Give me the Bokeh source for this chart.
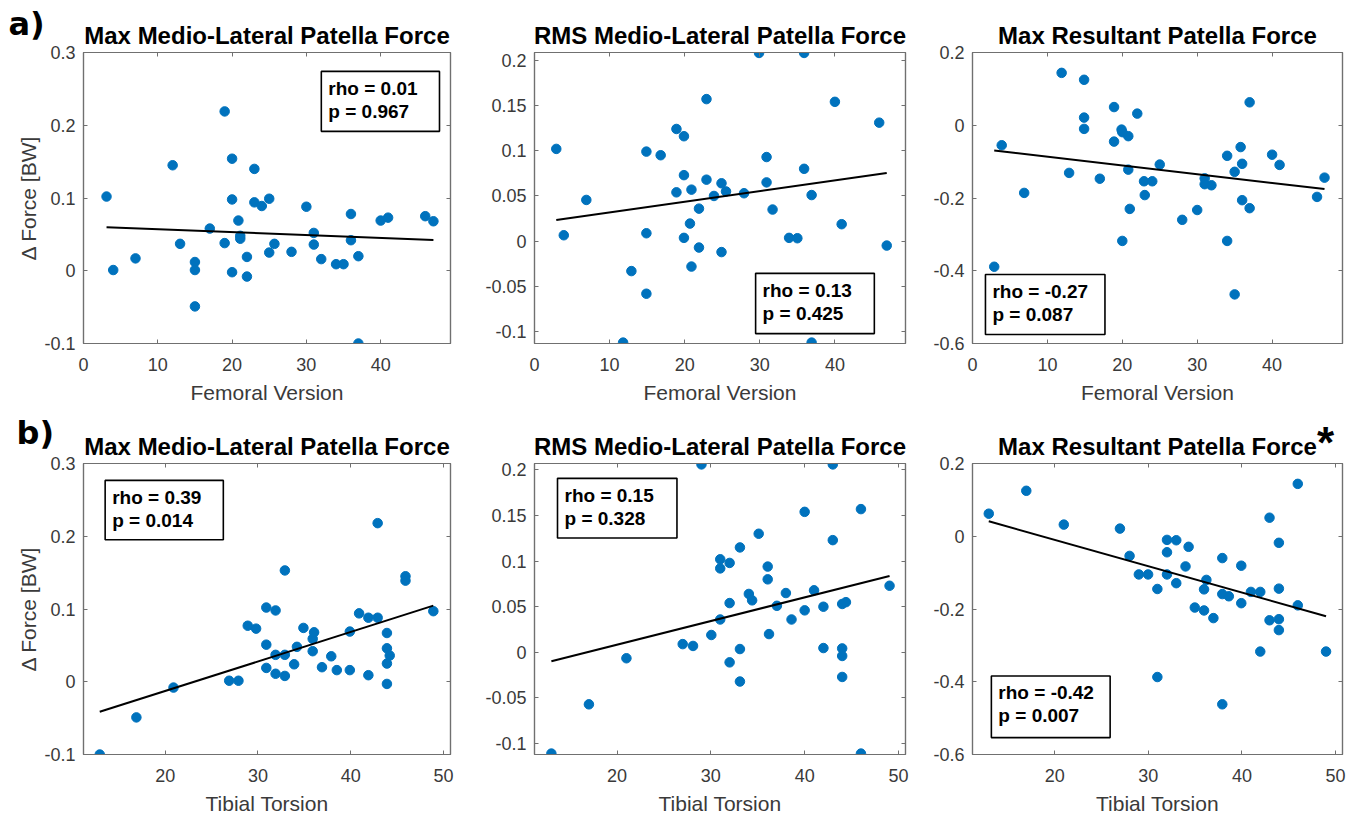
from bokeh.plotting import figure
from bokeh.models import (Range1d, FixedTicker, LinearAxis, BoxAnnotation, Label,
                          CustomJSTickFormatter, GridBox)
from bokeh.embed import file_html
from bokeh.resources import INLINE

# ------------------------------------------------------------------ data
titles = ["Max Medio-Lateral Patella Force", "RMS Medio-Lateral Patella Force",
          "Max Resultant Patella Force"]
x_labels = ["Femoral Version", "Tibial Torsion"]
y_label = "\u0394 Force [BW]"
row_tags = ["a)", "b)"]
sig_mark = "*"

# a) Femoral version
a1_x = [3.1, 4, 7, 12, 13, 15, 15, 15, 17, 19, 19, 20, 20, 20, 20.85, 21.1, 21.1, 22, 22, 23,
        23, 24, 25, 25, 25.7, 28, 30, 31, 31, 32, 34, 35, 36, 36, 37, 37, 40, 41, 46, 47.1]
a1_y = [0.102, 0.001, 0.017, 0.145, 0.037, 0.012, 0.001, -0.049, 0.058, 0.219, 0.038, 0.154,
        0.098, -0.002, 0.069, 0.048, 0.044, 0.019, -0.008, 0.140, 0.094, 0.089, 0.099, 0.025,
        0.037, 0.026, 0.088, 0.052, 0.036, 0.016, 0.009, 0.009, 0.078, 0.042, 0.020, -0.1,
        0.069, 0.073, 0.075, 0.068]
a2_x = [2.9, 3.9, 6.9, 11.8, 12.9, 14.9, 14.9, 14.9, 16.8, 18.9, 18.9, 19.9, 19.9, 19.9, 20.7,
        20.9, 20.9, 21.9, 21.9, 22.9, 22.9, 23.9, 24.9, 24.9, 25.5, 27.9, 29.9, 30.9, 30.9, 31.7,
        33.9, 35.0, 35.9, 35.9, 36.9, 36.9, 40.0, 40.9, 45.9, 46.9]
a2_y = [0.102, 0.0066, 0.0456, -0.112, -0.033, 0.099, 0.0088, -0.058, 0.095, 0.124, 0.054,
        0.116, 0.073, 0.0037, 0.0195, 0.057, -0.028, 0.036, -0.007, 0.157, 0.068, 0.050, 0.064,
        -0.012, 0.055, 0.053, 0.208, 0.093, 0.065, 0.035, 0.0037, 0.0033, 0.208, 0.080, 0.051,
        -0.112, 0.154, 0.0188, 0.131, -0.0048]
a3_x = [2.9, 3.9, 6.9, 11.9, 12.9, 14.9, 14.9, 14.9, 17.0, 18.9, 18.9, 19.9, 20.0, 20.0, 20.8,
        20.8, 21.0, 22.0, 22.9, 23.0, 24.0, 25.0, 28.0, 30.0, 31.0, 31.0, 31.9, 34.0, 34.0, 35.0,
        35.0, 35.8, 36.0, 36.0, 37.0, 37.0, 40.0, 41.0, 46.0, 47.0]
a3_y = [-0.389, -0.055, -0.186, 0.144, -0.131, 0.125, 0.021, -0.010, -0.147, 0.050, -0.045,
        -0.012, -0.019, -0.318, -0.030, -0.122, -0.230, 0.032, -0.154, -0.192, -0.154, -0.108,
        -0.260, -0.233, -0.146, -0.162, -0.165, -0.084, -0.318, -0.128, -0.465, -0.060, -0.106,
        -0.206, 0.063, -0.228, -0.081, -0.109, -0.197, -0.144]

# b) Tibial torsion
b1_x = [12.95, 16.9, 20.9, 26.9, 27.9, 28.9, 29.8, 30.9, 30.9, 30.9, 31.9, 31.9, 31.9, 32.9,
        32.9, 32.9, 33.9, 34.2, 34.9, 35.9, 36.05, 35.9, 36.9, 37.9, 38.5, 39.9, 39.9, 40.9,
        41.9, 41.9, 42.9, 42.9, 43.9, 43.9, 44.2, 43.9, 43.9, 45.9, 45.9, 48.9]
b1_y = [-0.1, -0.049, -0.008, 0.0014, 0.0014, 0.077, 0.073, 0.102, 0.051, 0.019, 0.098, 0.037,
        0.011, 0.153, 0.037, 0.008, 0.024, 0.048, 0.074, 0.059, 0.068, 0.042, 0.020, 0.035,
        0.016, 0.069, 0.016, 0.094, 0.088, 0.009, 0.218, 0.088, 0.067, 0.046, 0.036, 0.025,
        -0.003, 0.145, 0.139, 0.097]
b2_x = [13.0, 17.0, 21.0, 27.0, 28.1, 29.0, 30.05, 31.0, 31.0, 31.0, 32.0, 32.0, 32.0, 33.1,
        33.1, 33.1, 34.05, 34.4, 35.1, 36.06, 36.06, 36.2, 37.04, 38.0, 38.6, 40.0, 40.0, 41.0,
        42.0, 42.0, 43.0, 43.0, 44.0, 44.4, 44.0, 44.0, 44.0, 46.0, 46.0, 49.05]
b2_y = [-0.111, -0.057, -0.0065, 0.009, 0.007, 0.206, 0.019, 0.102, 0.092, 0.036, 0.098, 0.054,
        -0.011, 0.115, 0.0036, -0.032, 0.064, 0.057, 0.130, 0.094, 0.080, 0.020, 0.051, 0.065,
        0.036, 0.154, 0.046, 0.068, 0.050, 0.0047, 0.206, 0.123, 0.053, 0.055, 0.0043, -0.004,
        -0.027, 0.157, -0.111, 0.073]
b3_x = [12.94, 16.95, 20.96, 26.96, 27.99, 28.98, 29.97, 30.96, 30.96, 31.99, 31.99, 31.99,
        32.98, 32.98, 33.97, 34.3, 34.96, 35.95, 35.95, 36.2, 36.95, 37.9, 37.9, 38.6, 37.9,
        39.93, 39.93, 40.96, 41.96, 41.96, 42.95, 42.95, 43.95, 43.95, 43.95, 43.95, 45.97,
        45.97, 48.99]
b3_y = [0.062, 0.125, 0.032, 0.021, -0.054, -0.105, -0.105, -0.145, -0.387, -0.010, -0.044,
        -0.105, -0.011, -0.129, -0.083, -0.029, -0.196, -0.146, -0.204, -0.120, -0.225, -0.060,
        -0.159, -0.165, -0.462, -0.081, -0.184, -0.153, -0.153, -0.317, 0.051, -0.231, -0.018,
        -0.144, -0.228, -0.258, 0.144, -0.190, -0.317]

# regression lines (end points)
a1_fit_x, a1_fit_y = [3.1, 47.1], [0.0598, 0.0423]
a2_fit_x, a2_fit_y = [2.9, 46.9], [0.0235, 0.0754]
a3_fit_x, a3_fit_y = [2.9, 47.0], [-0.0695, -0.1755]
b1_fit_x, b1_fit_y = [12.95, 48.9], [-0.0413, 0.1046]
b2_fit_x, b2_fit_y = [13.0, 49.05], [-0.0097, 0.0837]
b3_fit_x, b3_fit_y = [12.94, 48.99], [0.041, -0.220]

# statistics
a1_stats = ["rho = 0.01", "p = 0.967"]
a2_stats = ["rho = 0.13", "p = 0.425"]
a3_stats = ["rho = -0.27", "p = 0.087"]
b1_stats = ["rho = 0.39", "p = 0.014"]
b2_stats = ["rho = 0.15", "p = 0.328"]
b3_stats = ["rho = -0.42", "p = 0.007"]

# ticks
fv_xticks = [0, 10, 20, 30, 40]
fv_xlabels = ["0", "10", "20", "30", "40"]
tt_xticks = [20, 30, 40, 50]
tt_xlabels = ["20", "30", "40", "50"]
ml_yticks = [-0.1, 0, 0.1, 0.2, 0.3]
ml_ylabels = ["-0.1", "0", "0.1", "0.2", "0.3"]
rms_yticks = [-0.1, -0.05, 0, 0.05, 0.1, 0.15, 0.2]
rms_ylabels = ["-0.1", "-0.05", "0", "0.05", "0.1", "0.15", "0.2"]
res_yticks = [-0.6, -0.4, -0.2, 0, 0.2]
res_ylabels = ["-0.6", "-0.4", "-0.2", "0", "0.2"]

# ------------------------------------------------------------------ style
BLUE = "#0072BD"
FONT = "Liberation Sans"
AX = "#707070"
TXT = "#3a3a3a"


def base_fig(width, height, bl, br, bt, bb, xr, yr):
    p = figure(width=width, height=height, output_backend="svg", toolbar_location=None,
               x_range=Range1d(*xr), y_range=Range1d(*yr),
               min_border_left=bl, min_border_right=br, min_border_top=bt,
               min_border_bottom=bb, x_axis_location=None, y_axis_location=None)
    p.xgrid.visible = False
    p.ygrid.visible = False
    return p


def panel(x, y, fx, fy, stats, title, xticks, xlabels, yticks, ylabels, xr, yr,
          geom, box, xlabel, ylabel=None):
    p = base_fig(*geom, xr, yr)
    p.title.text = title
    p.title.align = "center"
    p.title.text_font = FONT
    p.title.text_font_size = "24px"
    p.title.text_font_style = "bold"
    p.title.text_color = "black"
    p.title.standoff = 8
    p.outline_line_color = AX
    p.outline_line_width = 1.2
    p.background_fill_color = "white"
    p.border_fill_color = "white"

    for loc, ticks, labels in (("below", xticks, xlabels), ("left", yticks, ylabels),
                               ("above", xticks, None), ("right", yticks, None)):
        ax = LinearAxis(ticker=FixedTicker(ticks=ticks, minor_ticks=[]))
        ax.axis_line_color = AX
        ax.axis_line_width = 1.2
        ax.major_tick_line_color = AX
        ax.major_tick_in = 4
        ax.major_tick_out = 0
        ax.minor_tick_in = 0
        ax.minor_tick_out = 0
        if labels is None:
            ax.formatter = CustomJSTickFormatter(code="return ''")
            ax.major_label_standoff = 0
            ax.major_label_text_font_size = "1px"
        else:
            ax.major_label_overrides = dict(zip(ticks, labels))
            ax.major_label_text_font = FONT
            ax.major_label_text_font_size = "18px"
            ax.major_label_text_color = TXT
            ax.major_label_standoff = 14 if loc == "below" else 8
            ax.axis_label_text_font = FONT
            ax.axis_label_text_font_size = "21px"
            ax.axis_label_text_font_style = "normal"
            ax.axis_label_text_color = TXT
            ax.axis_label_standoff = 7 if loc == "below" else 1
            if loc == "below":
                ax.axis_label = xlabel
            elif ylabel:
                ax.axis_label = ylabel
        p.add_layout(ax, loc)

    p.scatter(x, y, size=9.5, color=BLUE, line_color=BLUE)
    p.line(fx, fy, color="black", line_width=2)

    # statistics box (fractions of the frame)
    fx0, fx1, fy0, fy1 = box
    dx = xr[1] - xr[0]
    dy = yr[1] - yr[0]
    left, right = xr[0] + fx0 * dx, xr[0] + fx1 * dx
    bottom, top = yr[0] + fy0 * dy, yr[0] + fy1 * dy
    p.add_layout(BoxAnnotation(left=left, right=right, bottom=bottom, top=top,
                               fill_color="white", fill_alpha=1.0, line_color="black",
                               line_width=1.6, line_alpha=1.0))
    for i, s in enumerate(stats):
        p.add_layout(Label(x=left, y=top, x_offset=7, y_offset=-17 - 23 * i, text=s,
                           text_font=FONT, text_font_size="19px", text_font_style="bold",
                           text_color="black", text_baseline="middle"))
    return p


def overlay(geom, xr, yr, text, x, y, font, size, align="left"):
    """Transparent twin of a panel; the text sits in its top side panel (not clipped)."""
    o = base_fig(*geom, xr, yr)
    o.title.visible = False
    o.outline_line_color = None
    o.background_fill_color = None
    o.border_fill_color = None
    o.add_layout(Label(x=x, y=y, x_units="screen", y_units="screen", text=text,
                       text_font=font, text_font_style="bold", text_font_size=size,
                       text_color="black", text_align=align), "above")
    return o


FV_XR = (0, 49.4)
TT_XR = (11.2, 50.75)
W1, W2, W3 = 464, 445, 437
H1, H2 = 410, 407
G1 = (W1, H1, 83, 12, 52, 67)
G2 = (W2, H1, 70, 4, 52, 67)
G3 = (W3, H1, 62, 4, 52, 67)
G4 = (W1, H2, 80, 14, 53, 60)
G5 = (W2, H2, 69, 4, 53, 60)
G6 = (W3, H2, 63, 3, 53, 60)

p1 = panel(a1_x, a1_y, a1_fit_x, a1_fit_y, a1_stats, titles[0], fv_xticks, fv_xlabels,
           ml_yticks, ml_ylabels, FV_XR, (-0.1, 0.3), G1,
           (0.648, 0.970, 0.729, 0.935), x_labels[0], y_label)
p2 = panel(a2_x, a2_y, a2_fit_x, a2_fit_y, a2_stats, titles[1], fv_xticks, fv_xlabels,
           rms_yticks, rms_ylabels, FV_XR, (-0.113, 0.2085), G2,
           (0.596, 0.916, 0.034, 0.241), x_labels[0])
p3 = panel(a3_x, a3_y, a3_fit_x, a3_fit_y, a3_stats, titles[2], fv_xticks, fv_xlabels,
           res_yticks, res_ylabels, FV_XR, (-0.6, 0.2), G3,
           (0.035, 0.358, 0.031, 0.237), x_labels[0])
p4 = panel(b1_x, b1_y, b1_fit_x, b1_fit_y, b1_stats, titles[0], tt_xticks, tt_xlabels,
           ml_yticks, ml_ylabels, TT_XR, (-0.1, 0.3), G4,
           (0.059, 0.381, 0.738, 0.942), x_labels[1], y_label)
p5 = panel(b2_x, b2_y, b2_fit_x, b2_fit_y, b2_stats, titles[1], tt_xticks, tt_xlabels,
           rms_yticks, rms_ylabels, TT_XR, (-0.112, 0.207), G5,
           (0.062, 0.384, 0.744, 0.949), x_labels[1])
p6 = panel(b3_x, b3_y, b3_fit_x, b3_fit_y, b3_stats, titles[2], tt_xticks, tt_xlabels,
           res_yticks, res_ylabels, TT_XR, (-0.6, 0.2), G6,
           (0.051, 0.372, 0.058, 0.270), x_labels[1])

o1 = overlay(G1, FV_XR, (-0.1, 0.3), row_tags[0], -75, 10, "DejaVu Sans", "32px")
o4 = overlay(G4, TT_XR, (-0.1, 0.3), row_tags[1], -67, 12, "DejaVu Sans", "32px")
o6 = overlay(G6, TT_XR, (-0.6, 0.2), sig_mark, 353, -3, FONT, "44px", "center")

grid = GridBox(children=[(p1, 0, 0), (p2, 0, 1), (p3, 0, 2),
                         (p4, 1, 0), (p5, 1, 1), (p6, 1, 2),
                         (o1, 0, 0), (o4, 1, 0), (o6, 1, 2)])
open("out.html", "w").write(file_html(grid, INLINE))
